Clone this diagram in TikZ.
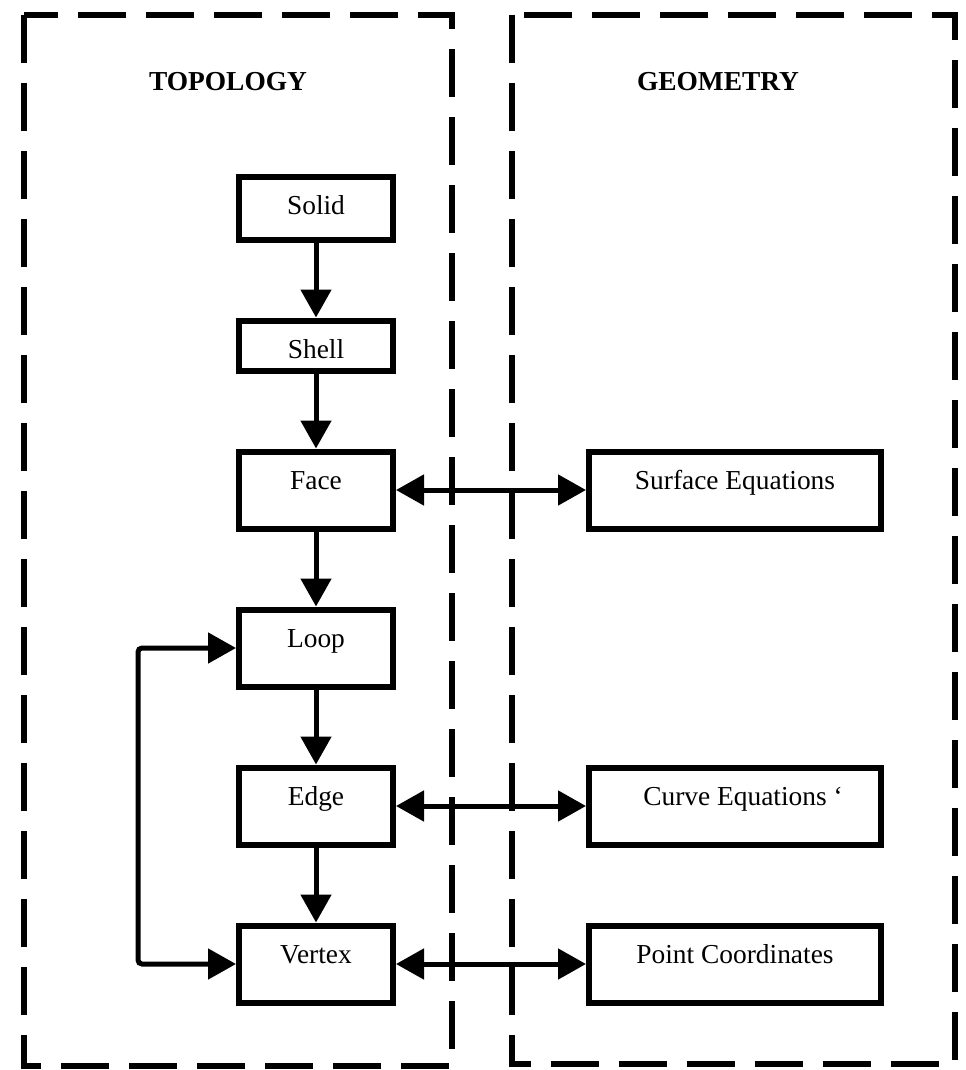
\documentclass[tikz,border=0pt]{standalone}
\usepackage{fontspec}
\setmainfont{Liberation Serif}
\usepackage{tikz}
\usetikzlibrary{arrows.meta,positioning}

\begin{document}
\begin{tikzpicture}[
      x=0.5pt, y=-0.5pt,
      every node/.style={font=\fontsize{13.7}{16}\selectfont},
      node distance=37.5pt,
      box/.style={draw, line width=3pt, inner sep=0pt, align=center,
                  minimum width=77pt, text height=19pt, text depth=19.5pt},
      geobox/.style={box, minimum width=146pt},
      panel/.style={line width=2.75pt, dash pattern=on 24pt off 10pt},
      title/.style={font=\fontsize{13.7}{16}\selectfont\bfseries},
      arrow/.style={-{Triangle[length=14pt,width=15pt]}, line width=2.5pt},
      biarrow/.style={arrow, {Triangle[length=14pt,width=15pt]}-{Triangle[length=14pt,width=15pt]}}
    ]
    \fill[white] (0,0) rectangle (965,1070);
    \useasboundingbox (0,0) rectangle (965,1070);

    % the two dashed panels
    \draw[panel] (24,15)  rectangle (452,1066);
    \draw[panel] (512,15) rectangle (955,1064);
    \node[title] (topo) at (228,82) {TOPOLOGY};
    \node[title] (geom) at (718,82) {GEOMETRY};

    % topology chain
    \node[box, text depth=12.5pt] (solid) at (316,208) {Solid};
    \node[box, text depth=6pt, below=of solid] (shell)  {Shell};
    \node[box, below=of shell]                  (face)   {Face};
    \node[box, below=of face]                   (loop)   {Loop};
    \node[box, below=of loop]                   (edge)   {Edge};
    \node[box, below=of edge]                   (vertex) {Vertex};

    % geometry side
    \node[geobox, right=95pt of face]   (surface) {Surface Equations};
    \node[geobox, right=95pt of edge]   (curve)   {Curve Equations\rlap{\ `}};
    \node[geobox, right=95pt of vertex] (point)   {Point Coordinates};

    \draw[arrow] (solid) -- (shell);
    \draw[arrow] (shell) -- (face);
    \draw[arrow] (face)  -- (loop);
    \draw[arrow] (loop)  -- (edge);
    \draw[arrow] (edge)  -- (vertex);
    \draw[biarrow] (face)   -- (surface);
    \draw[biarrow] (edge)   -- (curve);
    \draw[biarrow] (vertex) -- (point);
    \draw[biarrow, rounded corners=2pt] (loop.west) -- ++(-49pt,0) |- (vertex.west);
  \end{tikzpicture}
\end{document}
